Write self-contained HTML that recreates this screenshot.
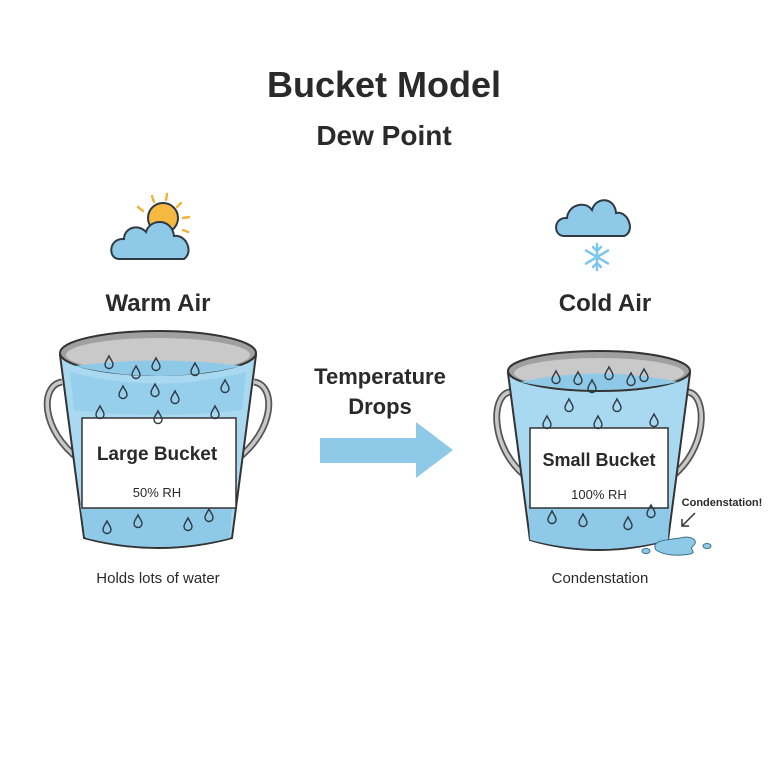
<!DOCTYPE html>
<html><head><style>
html,body{margin:0;padding:0;background:#fff;width:768px;height:768px;overflow:hidden}
text{font-family:"Liberation Sans",sans-serif;fill:#2a2a2a}
</style></head><body>
<svg width="768" height="768" viewBox="0 0 768 768" xmlns="http://www.w3.org/2000/svg">
<defs>
<path id="d" d="M0,-6 C2,-2 4,0 4,2.5 A4,4 0 0 1 -4,2.5 C-4,0 -2,-2 0,-6Z" fill="none" stroke="#2f3a44" stroke-width="1.4"/>
</defs>
<text x="384" y="97" font-size="36" font-weight="bold" text-anchor="middle">Bucket Model</text>
<text x="384" y="145" font-size="28" font-weight="bold" text-anchor="middle">Dew Point</text>

<!-- sun + cloud -->
<g stroke="#f2b33c" stroke-width="2.5" stroke-linecap="round">
<line x1="152" y1="196" x2="154" y2="202"/><line x1="167" y1="194" x2="166" y2="200"/>
<line x1="181" y1="203" x2="177" y2="207"/><line x1="189" y1="217" x2="183" y2="218"/>
<line x1="188" y1="232" x2="183" y2="230"/><line x1="138" y1="207" x2="143" y2="211"/>
</g>
<circle cx="163" cy="218" r="15" fill="#f5b942" stroke="#2f3a44" stroke-width="2"/>
<path d="M119,259 C108,259 108,238 124,239 C124,228 138,223 146,232 C150,218 172,218 174,236 C186,234 194,252 184,259 Z" fill="#8ecae8" stroke="#2f3a44" stroke-width="2"/>

<!-- cold cloud -->
<path d="M564,236 C553,236 553,217 567,218 C568,205 585,200 592,210 C596,196 615,197 616,213 C628,210 636,232 624,236 Z" fill="#8ecae8" stroke="#2f3a44" stroke-width="2"/>
<g stroke="#7cc7ec" stroke-width="2.5" stroke-linecap="round" transform="translate(597,257)">
<line x1="0" y1="-13" x2="0" y2="13"/><line x1="-11" y1="-6.5" x2="11" y2="6.5"/><line x1="-11" y1="6.5" x2="11" y2="-6.5"/>
<path d="M-4,-10 L0,-6 L4,-10 M-4,10 L0,6 L4,10" fill="none"/>
</g>

<text x="158" y="311" font-size="24" font-weight="bold" text-anchor="middle">Warm Air</text>
<text x="605" y="311" font-size="24" font-weight="bold" text-anchor="middle">Cold Air</text>

<!-- left bucket -->
<path d="M62,382 C40,385 40,430 80,460" fill="none" stroke="#555" stroke-width="7"/>
<path d="M62,382 C40,385 40,430 80,460" fill="none" stroke="#c8c8c8" stroke-width="3.5"/>
<path d="M254,382 C276,385 276,430 236,460" fill="none" stroke="#555" stroke-width="7"/>
<path d="M254,382 C276,385 276,430 236,460" fill="none" stroke="#c8c8c8" stroke-width="3.5"/>
<path d="M60,355 L84,538 Q158,558 232,538 L256,355 Z" fill="#a9d9f1" stroke="#333" stroke-width="2"/>
<path d="M70,372 Q158,395 246,372 L242,410 Q158,420 74,410 Z" fill="#8ecae8" opacity="0.7"/>
<path d="M80,505 L232,505 L230,538 Q158,556 86,538 Z" fill="#8ecae8"/>
<ellipse cx="158" cy="353" rx="98" ry="22" fill="#a0a0a0" stroke="#333" stroke-width="2"/>
<ellipse cx="158" cy="355" rx="92" ry="17" fill="#c9c9c9"/>
<path d="M74,366 Q158,355 242,366 Q158,386 74,366Z" fill="#8ecae8"/>
<rect x="82" y="418" width="154" height="90" fill="#fff" stroke="#333" stroke-width="1.5"/>
<text x="157" y="460" font-size="19" font-weight="bold" text-anchor="middle">Large Bucket</text>
<text x="157" y="497" font-size="13" text-anchor="middle">50% RH</text>
<g>
<use href="#d" x="109" y="362"/><use href="#d" x="136" y="372"/><use href="#d" x="156" y="364"/><use href="#d" x="195" y="369"/>
<use href="#d" x="123" y="392"/><use href="#d" x="155" y="390"/><use href="#d" x="175" y="397"/><use href="#d" x="225" y="386"/>
<use href="#d" x="100" y="412"/><use href="#d" x="158" y="417"/><use href="#d" x="215" y="412"/>
<use href="#d" x="107" y="527"/><use href="#d" x="138" y="521"/><use href="#d" x="188" y="524"/><use href="#d" x="209" y="515"/>
</g>
<text x="158" y="583" font-size="15" text-anchor="middle">Holds lots of water</text>

<!-- arrow -->
<text x="380" y="384" font-size="22" font-weight="bold" text-anchor="middle">Temperature</text>
<text x="380" y="414" font-size="22" font-weight="bold" text-anchor="middle">Drops</text>
<path d="M320,438 L416,438 L416,422 L453,450 L416,478 L416,463 L320,463 Z" fill="#8ecae8"/>

<!-- right bucket -->
<path d="M510,392 C490,395 490,450 528,478" fill="none" stroke="#555" stroke-width="7"/>
<path d="M510,392 C490,395 490,450 528,478" fill="none" stroke="#c8c8c8" stroke-width="3.5"/>
<path d="M688,392 C708,395 708,450 670,478" fill="none" stroke="#555" stroke-width="7"/>
<path d="M688,392 C708,395 708,450 670,478" fill="none" stroke="#c8c8c8" stroke-width="3.5"/>
<path d="M508,373 L530,540 Q599,560 668,540 L690,373 Z" fill="#a9d9f1" stroke="#333" stroke-width="2"/>
<path d="M528,505 L670,505 L668,540 Q599,558 530,540 Z" fill="#8ecae8"/>
<ellipse cx="599" cy="371" rx="91" ry="20" fill="#a0a0a0" stroke="#333" stroke-width="2"/>
<ellipse cx="599" cy="373" rx="85" ry="15" fill="#c9c9c9"/>
<path d="M520,382 Q599,365 678,382 Q599,398 520,382Z" fill="#8ecae8"/>
<rect x="530" y="428" width="138" height="80" fill="#fff" stroke="#333" stroke-width="1.5"/>
<text x="599" y="466" font-size="18" font-weight="bold" text-anchor="middle">Small Bucket</text>
<text x="599" y="499" font-size="13" text-anchor="middle">100% RH</text>
<g>
<use href="#d" x="556" y="377"/><use href="#d" x="578" y="378"/><use href="#d" x="609" y="373"/><use href="#d" x="631" y="379"/><use href="#d" x="644" y="375"/>
<use href="#d" x="592" y="386"/><use href="#d" x="569" y="405"/><use href="#d" x="617" y="405"/>
<use href="#d" x="547" y="422"/><use href="#d" x="598" y="422"/><use href="#d" x="654" y="420"/>
<use href="#d" x="552" y="517"/><use href="#d" x="583" y="520"/><use href="#d" x="628" y="523"/><use href="#d" x="651" y="511"/>
</g>
<path d="M656,550 C650,540 668,540 680,538 C690,535 700,540 693,546 C688,550 698,552 690,554 C680,556 665,556 656,550Z" fill="#8ecae8" stroke="#3a6f8c" stroke-width="1"/>
<ellipse cx="646" cy="551" rx="4" ry="2.5" fill="#8ecae8" stroke="#3a6f8c" stroke-width="1"/>
<ellipse cx="707" cy="546" rx="4" ry="2.5" fill="#8ecae8" stroke="#3a6f8c" stroke-width="1"/>
<text x="722" y="506" font-size="11" font-weight="bold" text-anchor="middle">Condenstation!</text>
<path d="M695,513 L682,526 M682,519 L682,526 L689,526" fill="none" stroke="#333" stroke-width="1.5"/>
<text x="600" y="583" font-size="15" text-anchor="middle">Condenstation</text>
</svg>
</body></html>
